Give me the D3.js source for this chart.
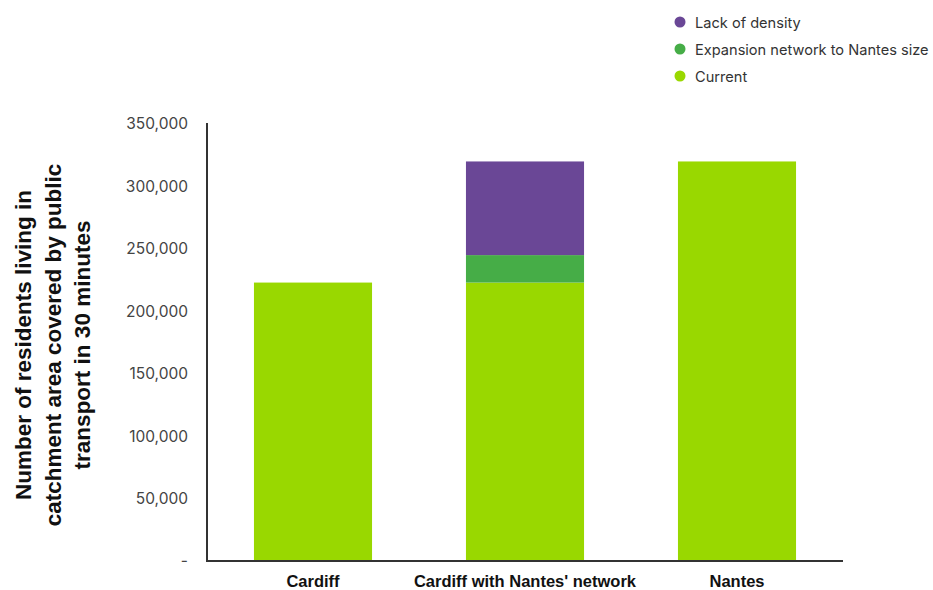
<!DOCTYPE html>
<html><head><meta charset="utf-8">
<script src="https://cdn.jsdelivr.net/npm/d3@7"></script>
<style>body{margin:0;background:#fff}svg{display:block}</style>
</head><body>
<svg id="c" width="933" height="590"></svg>
<script>
const categories = ["Cardiff", "Cardiff with Nantes' network", "Nantes"];
const seriesNames = ["Current", "Expansion network to Nantes size", "Lack of density"];
const current = [223000, 223000, 320000];
const expansion = [0, 22000, 0];
const lackOfDensity = [0, 75000, 0];
const colors = ["#99d800", "#46ad47", "#6a4796"];
const yTicks = [0, 50000, 100000, 150000, 200000, 250000, 300000, 350000];
const yTitle = ["Number of residents living in", "catchment area covered by public", "transport in 30 minutes"];

const svg = d3.select("#c");
const x0 = 207, x1 = 843, yBase = 561, yTop = 124;
const x = d3.scaleBand().domain(categories).range([x0, x1]).paddingInner(0.443).paddingOuter(0.2215);
const y = d3.scaleLinear().domain([0, 350000]).range([yBase, yTop]);

const rows = categories.map((c, i) => ({cat: c, "Current": current[i], "Expansion network to Nantes size": expansion[i], "Lack of density": lackOfDensity[i]}));
const stack = d3.stack().keys(seriesNames)(rows);

svg.append("g").selectAll("g").data(stack).join("g")
  .attr("fill", (d, i) => colors[i])
  .selectAll("rect").data(d => d.filter(p => p[1] > p[0])).join("rect")
  .attr("x", d => x(d.data.cat)).attr("width", x.bandwidth())
  .attr("y", d => y(d[1])).attr("height", d => y(d[0]) - y(d[1]));

// y axis
const yAxis = d3.axisLeft(y).tickValues(yTicks).tickSize(0).tickPadding(19)
  .tickFormat(d => d === 0 ? "-" : d3.format(",")(d));
const gy = svg.append("g").attr("transform", `translate(${x0},0)`).call(yAxis);
gy.select(".domain").attr("stroke", "#333").attr("stroke-width", 2).attr("d", `M0,${yTop - 1}V${yBase}`);
gy.selectAll("text").attr("font-family", "Inter, 'Open Sans', sans-serif").attr("font-size", 15.5).attr("fill", "#444");

// x axis
const xAxis = d3.axisBottom(x).tickSize(0).tickPadding(14);
const gx = svg.append("g").attr("transform", `translate(0,${yBase})`).call(xAxis);
gx.select(".domain").attr("stroke", "#333").attr("stroke-width", 2).attr("d", `M${x0 - 1},0H${x1}`);
gx.selectAll("text").attr("font-family", "'Liberation Sans', Arial, sans-serif").attr("font-weight", "bold").attr("font-size", 16.5).attr("fill", "#111");

// y title
const yt = svg.append("text").attr("transform", "translate(0,345) rotate(-90)")
  .attr("text-anchor", "middle").attr("font-family", "'Liberation Sans', Arial, sans-serif")
  .attr("font-weight", "bold").attr("font-size", 22.5).attr("fill", "#111");
yTitle.forEach((t, i) => yt.append("tspan").attr("x", 0).attr("y", 31 + i * 29.5).text(t));

// legend
const legendOrder = [2, 1, 0];
const lg = svg.append("g");
legendOrder.forEach((si, k) => {
  const gy0 = 22 + k * 27;
  lg.append("circle").attr("cx", 680).attr("cy", gy0).attr("r", 5.5).attr("fill", colors[si]);
  lg.append("text").attr("x", 695).attr("y", gy0 + 5.5).attr("font-family", "Inter, 'Open Sans', sans-serif")
    .attr("font-size", 14.6).attr("fill", "#333").text(seriesNames[si]);
});
</script>
</body></html>
